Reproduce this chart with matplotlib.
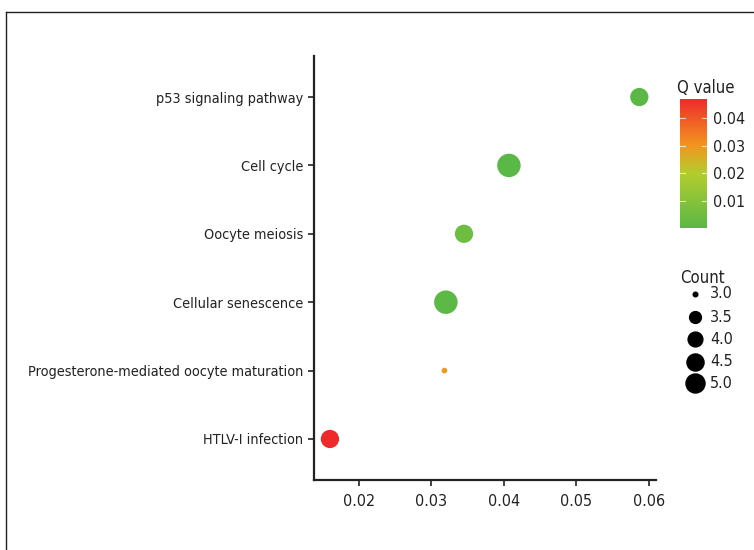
import numpy as np
import matplotlib
matplotlib.use("Agg")
import matplotlib.pyplot as plt
from matplotlib.colors import LinearSegmentedColormap, Normalize
from matplotlib.lines import Line2D

plt.rcParams['font.family'] = ['DejaVu Sans']
plt.rcParams['font.stretch'] = 'condensed'

# KEGG enrichment results
pathways = ['p53 signaling pathway', 'Cell cycle', 'Oocyte meiosis',
            'Cellular senescence', 'Progesterone-mediated oocyte maturation',
            'HTLV-I infection']
rich_factor = [0.0587, 0.0407, 0.0345, 0.0320, 0.0318, 0.0160]
counts = [4, 5, 4, 5, 3, 4]
q_values = [0.0008, 0.0003, 0.0045, 0.0010, 0.0290, 0.0469]

count_ticks = [3.0, 3.5, 4.0, 4.5, 5.0]
q_ticks = [0.01, 0.02, 0.03, 0.04]


def point_diameter(c, lo=3.0, hi=5.0, dmin=4.1, dmax=16.9):
    # ggplot-style area scale: diameter grows with sqrt of rescaled count
    t = (np.asarray(c, dtype=float) - lo) / (hi - lo)
    return dmin + (dmax - dmin) * np.sqrt(t)


cmap = LinearSegmentedColormap.from_list(
    'qval', [(0.0, '#5ab846'), (0.42, '#b3cd2e'), (0.64, '#f39420'),
             (1.0, '#ee2a2b')])
norm = Normalize(vmin=min(q_values), vmax=max(q_values))

fig = plt.figure(figsize=(7.54, 5.5), dpi=100)
ax = fig.add_axes([314 / 754, 1 - 480 / 550, (656 - 314) / 754, (480 - 56) / 550])

ypos = np.arange(len(pathways))[::-1] + 1
ax.scatter(rich_factor, ypos, s=point_diameter(counts) ** 2,
           c=q_values, cmap=cmap, norm=norm, edgecolors='none', zorder=3)

ax.set_xlim(0.0138, 0.061)
ax.set_ylim(0.4, len(pathways) + 0.6)
ax.set_yticks(ypos)
ax.set_yticklabels(pathways)
ax.set_xticks([0.02, 0.03, 0.04, 0.05, 0.06])
ax.set_xticklabels(['0.02', '0.03', '0.04', '0.05', '0.06'])
ax.tick_params(colors='#222222', width=1.2, length=4)
ax.tick_params(axis='y', labelsize=10.4)
ax.tick_params(axis='x', labelsize=11.5, pad=6)
for side in ['top', 'right']:
    ax.spines[side].set_visible(False)
for side in ['left', 'bottom']:
    ax.spines[side].set_linewidth(1.6)
    ax.spines[side].set_color('#222222')

# Q value colour bar
cax = fig.add_axes([680 / 754, 1 - 228 / 550, 27 / 754, (228 - 99) / 550])
grad = np.linspace(min(q_values), max(q_values), 256).reshape(-1, 1)
cax.imshow(grad, aspect='auto', cmap=cmap, norm=norm, origin='lower',
           extent=[0, 1, min(q_values), max(q_values)])
cax.set_xticks([])
cax.yaxis.tick_right()
cax.set_yticks(q_ticks)
cax.set_yticklabels([f'{v:.2f}' for v in q_ticks])
cax.tick_params(axis='y', length=0, labelsize=11.5, colors='#222222', pad=4)
for v in q_ticks:
    cax.plot([0, 0.2], [v, v], color='white', lw=0.8, alpha=0.7)
    cax.plot([0.8, 1], [v, v], color='white', lw=0.8, alpha=0.7)
cax.set_xlim(0, 1)
for s in cax.spines.values():
    s.set_visible(False)
fig.text(677 / 754, 1 - 88 / 550, 'Q value', fontsize=12, va='center',
         ha='left', color='#222222')

# Count size legend
fig.text(680 / 754, 1 - 278 / 550, 'Count', fontsize=12, va='center',
         ha='left', color='#222222')
leg_y = [294, 317, 339, 362, 383]
for c, yy in zip(count_ticks, leg_y):
    fig.add_artist(Line2D([695 / 754], [1 - yy / 550], marker='o',
                          markersize=float(point_diameter(c)) * 0.81,
                          color='black', linestyle='none'))
    fig.text(710 / 754, 1 - yy / 550, f'{c:.1f}', fontsize=11.5,
             va='center', ha='left', color='#222222')

# outer frame lines
fig.add_artist(Line2D([6 / 754, 1], [1 - 12 / 550, 1 - 12 / 550],
                      color='#222222', lw=1.0))
fig.add_artist(Line2D([6 / 754, 6 / 754], [0, 1 - 12 / 550],
                      color='#222222', lw=1.0))

fig.savefig('out.png', dpi=100)
